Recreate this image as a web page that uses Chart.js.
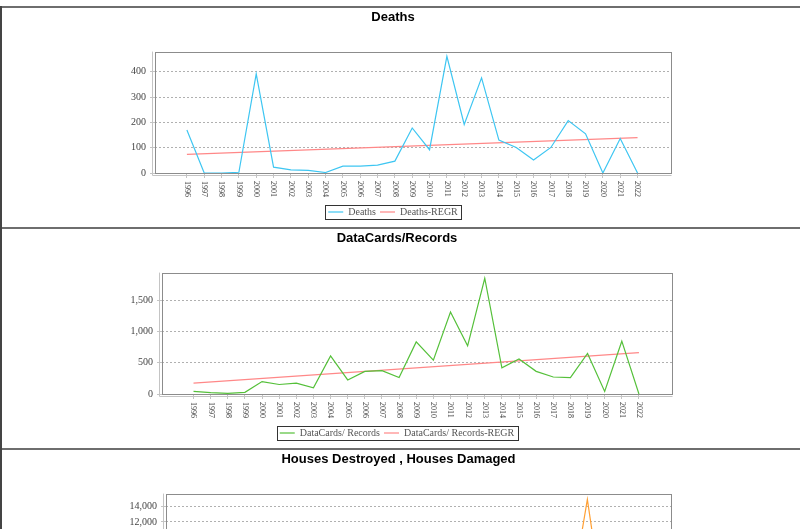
<!DOCTYPE html>
<html>
<head>
<meta charset="utf-8">
<script src="https://cdn.jsdelivr.net/npm/chart.js@4.4.1/dist/chart.umd.min.js"></script>
<style>
  html, body { margin: 0; padding: 0; background: #fff; overflow: hidden; }
  #wrap { margin-top: 6px; width: 1000px; border-left: 2px solid #444; }
  .panel { border-top: 2px solid #6e6e6e; height: 219px; }
  canvas { display: block; }
</style>
</head>
<body>
<div id="wrap">
  <div class="panel"><canvas id="c_deaths" width="798" height="219"></canvas></div>
  <div class="panel"><canvas id="c_cards" width="798" height="219"></canvas></div>
  <div class="panel"><canvas id="c_houses" width="798" height="219"></canvas></div>
</div>
<script>
const years = [1996, 1997, 1998, 1999, 2000, 2001, 2002, 2003, 2004, 2005, 2006, 2007, 2008,
  2009, 2010, 2011, 2012, 2013, 2014, 2015, 2016, 2017, 2018, 2019, 2020, 2021, 2022];
const regrYears = [1996, 2022];

const deaths = [170, 0, 0, 3, 392, 23, 12, 10, 2, 27, 27, 31, 47, 178, 92, 461, 192, 376, 130, 101, 51, 101, 207, 155, 0, 136, 0];
const deathsRegr = [74, 140];
const deathsTicks = [0, 100, 200, 300, 400];

const dataCards = [42, 21, 10, 26, 199, 152, 173, 100, 608, 225, 361, 372, 262, 833, 540, 1310, 770, 1850, 419, 561, 362, 272, 262, 649, 42, 844, 0];
const dataCardsRegr = [173, 660];
const dataCardsTicks = [0, 500, 1000, 1500];

const housesDestroyed = [60, 10, 0, 5, 420, 80, 60, 40, 20, 240, 130, 150, 110, 780, 350, 1200, 560, 1500, 300, 460, 180, 260, 380, 3100, 40, 900, 0];
const housesDestroyedRegr = [200, 700];
const housesDamaged = [320, 60, 0, 40, 2100, 450, 380, 210, 90, 1200, 640, 810, 560, 3900, 1700, 6100, 2800, 7400, 1500, 2300, 900, 1300, 1900, 14900, 0, 4200, 0];
const housesDamagedRegr = [1200, 3600];
const housesTicks = [0, 2000, 4000, 6000, 8000, 10000, 12000, 14000];

const serif = '"Liberation Serif", "Times New Roman", serif';

function points(xs, ys) {
  return xs.map((x, i) => ({ x: x, y: ys[i] }));
}

function lineSet(label, xs, ys, color) {
  return {
    label: label,
    data: points(xs, ys),
    borderColor: color,
    backgroundColor: color,
    borderWidth: 1.2,
    pointRadius: 0,
    tension: 0
  };
}

function makeChart(id, title, datasets, yTicks, yMax, plotLeft, plotRight) {
  const yWidth = 40;

  // plot frame, offset axis lines, rotated year labels, legend box
  const decor = {
    id: 'decor',
    beforeDatasetsDraw(chart) {
      const { ctx, chartArea: a } = chart;
      ctx.save();
      ctx.lineWidth = 1;
      ctx.strokeStyle = '#c4c4c4';
      ctx.beginPath();
      ctx.moveTo(a.left - 2.5, a.top);
      ctx.lineTo(a.left - 2.5, a.bottom + 2.5);
      ctx.lineTo(a.right + 0.5, a.bottom + 2.5);
      ctx.stroke();
      ctx.strokeStyle = '#8c8c8c';
      ctx.strokeRect(Math.round(a.left) + 0.5, Math.round(a.top) + 0.5,
        Math.round(a.right - a.left), Math.round(a.bottom - a.top));
      ctx.restore();
    },
    afterDraw(chart) {
      const { ctx, chartArea: a } = chart;
      const xs = chart.scales.x;
      ctx.save();
      ctx.fillStyle = '#444';
      ctx.font = '8px ' + serif;
      ctx.textAlign = 'left';
      ctx.textBaseline = 'middle';
      years.forEach(yr => {
        ctx.save();
        ctx.translate(xs.getPixelForValue(yr), a.bottom + 8);
        ctx.rotate(Math.PI / 2);
        ctx.fillText(String(yr), 0, 0);
        ctx.restore();
      });

      const boxes = chart.legend.legendHitBoxes;
      if (boxes && boxes.length) {
        const l = Math.min(...boxes.map(b => b.left)) - 3;
        const r = Math.max(...boxes.map(b => b.left + b.width)) + 3;
        const t = boxes[0].top - 2;
        const h = boxes[0].height + 4;
        ctx.lineWidth = 1;
        ctx.strokeStyle = '#333';
        ctx.strokeRect(Math.round(l) + 0.5, Math.round(t) + 0.5, Math.round(r - l), Math.round(h));
      }
      ctx.restore();
    }
  };

  return new Chart(document.getElementById(id), {
    type: 'line',
    data: { datasets: datasets },
    options: {
      responsive: false,
      animation: false,
      layout: { padding: { left: plotLeft - yWidth, right: 798 - plotRight, top: 0, bottom: 0 } },
      plugins: {
        title: {
          display: true,
          text: title,
          color: '#000',
          font: { family: '"Liberation Sans", Arial, sans-serif', size: 13, weight: 'bold' },
          padding: { top: 2, bottom: 26 }
        },
        legend: {
          position: 'bottom',
          labels: {
            usePointStyle: true,
            pointStyle: 'line',
            pointStyleWidth: 15,
            color: '#555',
            font: { family: serif, size: 10 },
            padding: 4
          }
        },
        tooltip: { enabled: false }
      },
      scales: {
        x: {
          type: 'linear',
          min: 1994.16,
          max: 2023.93,
          afterBuildTicks: s => { s.ticks = years.map(v => ({ value: v })); },
          ticks: { display: false },
          grid: { drawOnChartArea: false, drawTicks: true, tickLength: 5, tickColor: '#c4c4c4' },
          border: { display: false },
          afterFit: s => { s.height = 30; }
        },
        y: {
          min: 0,
          max: yMax,
          afterBuildTicks: s => { s.ticks = yTicks.map(v => ({ value: v })); },
          ticks: {
            color: '#444',
            font: { family: serif, size: 10 },
            padding: 4,
            callback: v => v.toLocaleString('en-US')
          },
          grid: { color: '#b0b0b0', tickColor: '#c4c4c4', tickLength: 5, tickBorderDash: [] },
          border: { display: false, dash: [2, 2] },
          afterFit: s => { s.width = yWidth; }
        }
      }
    },
    plugins: [decor]
  });
}

const regrColor = '#ff8888';

makeChart('c_deaths', 'Deaths', [
  lineSet('Deaths', years, deaths, '#3ec6f2'),
  lineSet('Deaths-REGR', regrYears, deathsRegr, regrColor)
], deathsTicks, 480, 153, 669);

makeChart('c_cards', 'DataCards/Records', [
  lineSet('DataCards/ Records', years, dataCards, '#55c03a'),
  lineSet('DataCards/ Records-REGR', regrYears, dataCardsRegr, regrColor)
], dataCardsTicks, 1940, 160, 670);

makeChart('c_houses', 'Houses Destroyed , Houses Damaged', [
  lineSet('Houses Destroyed', years, housesDestroyed, '#3e7ff2'),
  lineSet('Houses Destroyed-REGR', regrYears, housesDestroyedRegr, regrColor),
  lineSet('Houses Damaged', years, housesDamaged, '#ffa035'),
  lineSet('Houses Damaged-REGR', regrYears, housesDamagedRegr, '#c88')
], housesTicks, 15650, 164, 669);
</script>
</body>
</html>
